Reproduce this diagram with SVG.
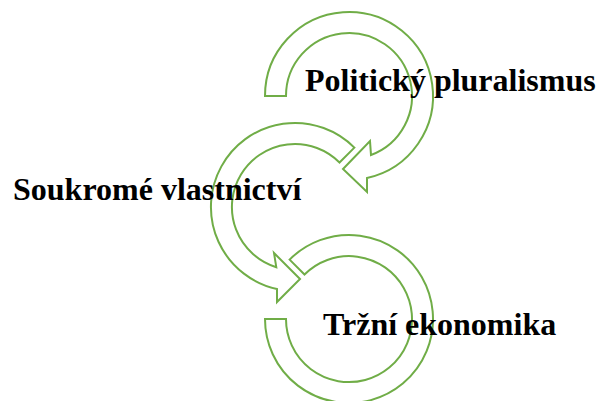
<svg xmlns="http://www.w3.org/2000/svg" width="596" height="401" viewBox="0 0 596 401">
  <style>
    .ring { fill: #ffffff; stroke: #70AD47; stroke-width: 2; stroke-linejoin: miter; }
    .label { font-family: "Liberation Serif", "Times New Roman", serif; font-weight: bold; font-size: 32px; fill: #000000; }
  </style>
  <rect x="0" y="0" width="596" height="401" fill="#ffffff"/>
  <g id="connectors"></g>
  <g id="node-politicky-pluralismus">
    <path class="ring" d="M265,96 A84,84 0 1 1 367,178 L367,192 L343,169 L370,141 L371,155 A63,63 0 1 0 286,96 Z"/>
    <text class="label" x="305" y="91">Politický pluralismus</text>
  </g>
  <g id="node-soukrome-vlastnictvi">
    <path class="ring" d="M354.4,147.6 A84,84 0 1 0 277,289 L277,302 L300,279 L274,253 L276.3,267.2 A63,63 0 1 1 339.5,162.5 Z"/>
    <text class="label" x="13" y="200">Soukromé vlastnictví</text>
  </g>
  <g id="node-trzni-ekonomika">
    <path class="ring" d="M289.6,259.6 A84,84 0 1 1 265,319 L286,319 A63,63 0 1 0 304.5,274.5 Z"/>
    <text class="label" x="323" y="335">Tržní ekonomika</text>
  </g>
</svg>
